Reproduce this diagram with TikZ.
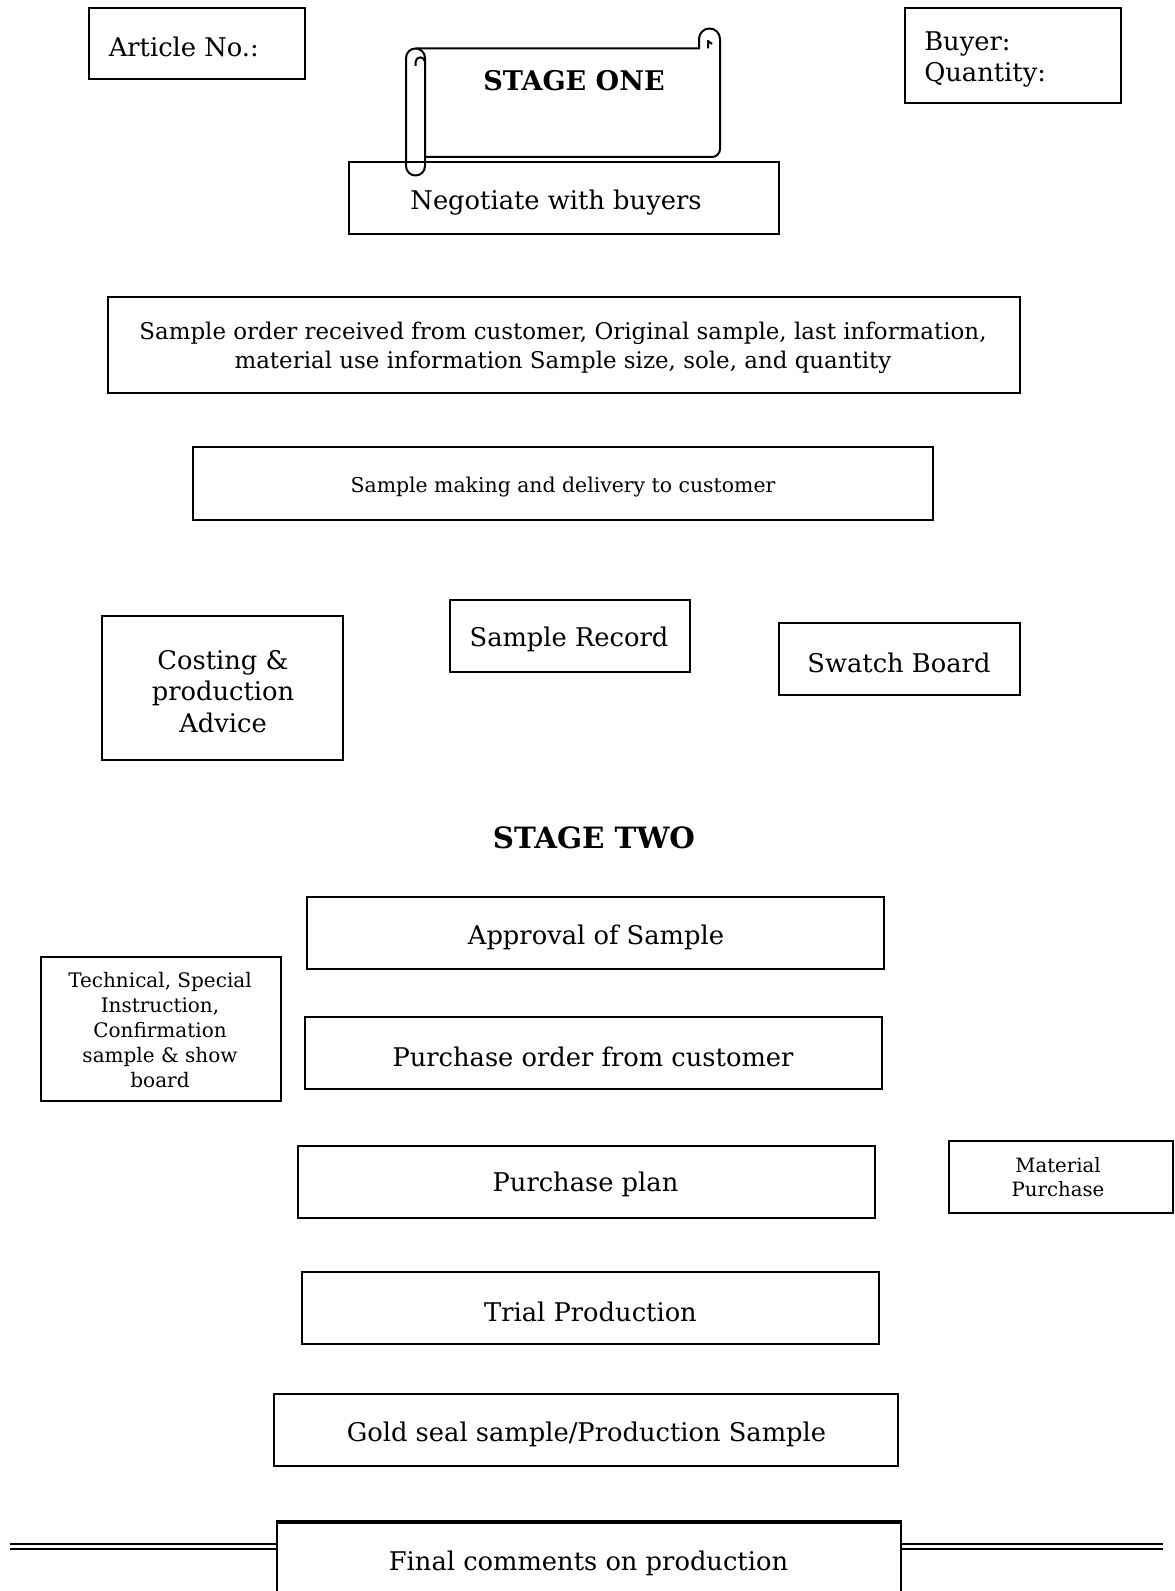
\documentclass[tikz,border=0pt]{standalone}
\usepackage{fontspec}
\setmainfont{DejaVu Serif}
\usetikzlibrary{fit}
\begin{document}
\begin{tikzpicture}[x=0.75pt,y=-0.75pt,
  box/.style={draw,line width=1.4pt,inner sep=0pt},
  lbl/.style={inner sep=0pt,align=center,yshift=-1.9pt,font=\fontsize{19.3}{23.6}\selectfont},
  lblmid/.style={inner sep=0pt,align=center,yshift=-1.5pt,font=\fontsize{17.2}{21.3}\selectfont},
  lblsmall/.style={inner sep=0pt,align=center,yshift=-1.5pt,font=\fontsize{15.3}{18.7}\selectfont},
  lbltiny/.style={inner sep=0pt,align=center,font=\fontsize{15}{18.6}\selectfont},
  heading/.style={inner sep=0pt,font=\bfseries},
  scroll/.style={line width=1.5pt,line join=round}]
\useasboundingbox (0,0) rectangle (1174,1591);

% header boxes
\node[box,fit={(89,8)(305,79)}] (article) {};
\node[lbl,anchor=west] (articleT) at (108.6,44.6) {Article No.:};
\node[box,fit={(905,8)(1121,103)}] (buyer) {};
\node[lbl,anchor=west,align=left] (buyerT) at (924,57) {Buyer:\\Quantity:};

% stage one
\node[box,fit={(349,162)(779,234)}] (negotiate) {};
\node[lbl] (negotiateT) at (556,200) {Negotiate with buyers};

% scroll banner
\draw[scroll] (406,58) -- (406,166) arc[start angle=180,end angle=0,radius=9.5]
  -- (425,58) arc[start angle=360,end angle=180,radius=9.5];
\draw[scroll] (425,62) arc[start angle=0,end angle=-180,radius=4.7] -- (415.6,66);
\draw[scroll] (415.5,48.5) -- (699,48.5) -- (699,39)
  arc[start angle=180,end angle=360,radius=10.5];
\draw[scroll,rounded corners=6pt] (720,39) -- (720,157) -- (425,157);
\draw[scroll] (708,48.5) -- (708,41) -- (712,44);
\node[heading,font=\fontsize{20.3}{24}\selectfont\bfseries] (stage1) at (574,81) {STAGE ONE};

\node[box,fit={(108,297)(1020,393)}] (order) {};
\node[lblmid] (orderT) at (563,346) {Sample order received from customer, Original sample, last information,\\material use information Sample size, sole, and quantity};

\node[box,fit={(193,447)(933,520)}] (making) {};
\node[lblsmall] (makingT) at (563,485) {Sample making and delivery to customer};

\node[box,fit={(102,616)(343,760)}] (costing) {};
\node[lbl] (costingT) at (223,689) {Costing \&\\production\\Advice};
\node[box,fit={(450,600)(690,672)}] (record) {};
\node[lbl] (recordT) at (569,637) {Sample Record};
\node[box,fit={(779,623)(1020,695)}] (swatch) {};
\node[lbl] (swatchT) at (899,660.5) {Swatch Board};

% stage two
\node[heading,font=\fontsize{22}{26}\selectfont\bfseries] (stage2) at (594,838) {STAGE TWO};

\node[box,fit={(307,897)(884,969)}] (approval) {};
\node[lbl] (approvalT) at (596,934.5) {Approval of Sample};
\node[box,fit={(41,957)(281,1101)}] (technical) {};
\node[lbltiny] (technicalT) at (160,1030) {Technical, Special\\Instruction,\\Confirmation\\sample \& show\\board};
\node[box,fit={(305,1017)(882,1089)}] (porder) {};
\node[lbl] (porderT) at (593,1054) {Purchase order from customer};
\node[box,fit={(298,1146)(875,1218)}] (plan) {};
\node[lbl] (planT) at (585.5,1182) {Purchase plan};
\node[box,fit={(949,1141)(1173,1213)}] (material) {};
\node[lbltiny,font=\fontsize{14.8}{18.3}\selectfont] (materialT) at (1058,1177) {Material\\Purchase};
\node[box,fit={(302,1272)(879,1344)}] (trial) {};
\node[lbl] (trialT) at (590.5,1309) {Trial Production};
\node[box,fit={(274,1394)(898,1466)}] (gold) {};
\node[lbl] (goldT) at (586.5,1432) {Gold seal sample/Production Sample};

% final box runs off the bottom edge, with a double rule either side
\node[box,fit={(277,1523)(901,1620)}] (final) {};
\draw[line width=2.4pt] (final.north west) -- (final.north east);
\node[lbl] (finalT) at (588.5,1560.5) {Final comments on production};
\coordinate (ruleL) at (10,1546.5);
\coordinate (ruleR) at (1163,1546.5);
\draw[line width=1.2pt,double distance=2.2pt] (ruleL) -- (final.west |- ruleL);
\draw[line width=1.2pt,double distance=2.2pt] (final.east |- ruleR) -- (ruleR);
\end{tikzpicture}
\end{document}
